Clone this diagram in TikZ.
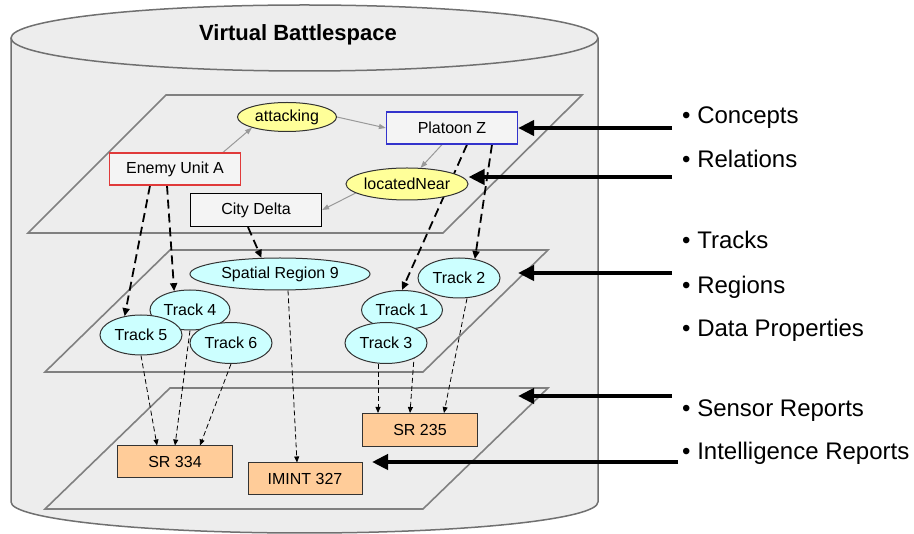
\documentclass[tikz,border=0pt]{standalone}
\usepackage{fontspec}
\setmainfont{Liberation Sans}
\usetikzlibrary{shapes.geometric,arrows.meta,calc}
\pgfdeclarelayer{bg}\pgfdeclarelayer{edges}
\pgfsetlayers{bg,edges,main}
\definecolor{bgc}{HTML}{EDEDED}
\definecolor{cylline}{HTML}{707070}
\definecolor{planeline}{HTML}{808080}
\definecolor{yel}{HTML}{FFFF99}
\definecolor{cyn}{HTML}{CCFFFF}
\definecolor{org}{HTML}{FFCC99}
\definecolor{redb}{HTML}{E03A3A}
\definecolor{blueb}{HTML}{3333CC}
\definecolor{relline}{HTML}{999999}
\definecolor{nodeline}{HTML}{333333}
\tikzset{
  nodefont/.style={font=\fontsize{16}{18}\selectfont},
  concept/.style={nodefont, rectangle, draw, fill=bgc!60!white, line width=1.2pt, minimum width=131pt, minimum height=32pt, inner sep=0pt},
  relnode/.style={nodefont, ellipse, draw=nodeline, fill=yel, line width=1pt, minimum height=29pt, inner sep=0pt},
  trk/.style={nodefont, ellipse, draw=nodeline, fill=cyn, line width=1pt, minimum width=82pt, minimum height=40pt, inner sep=0pt},
  rep/.style={nodefont, rectangle, draw=nodeline, fill=org, line width=1pt, minimum width=115pt, minimum height=32pt, inner sep=0pt},
  plane/.style={draw=planeline, line width=1.6pt, line join=miter},
  relarrow/.style={draw=relline, line width=1pt, -{Triangle[length=7pt,width=5pt]}},
  maparrow/.style={draw=black, line width=1.8pt, dash pattern=on 9pt off 5pt, -{Triangle[length=8pt,width=7pt]}},
  obsarrow/.style={draw=black, line width=0.8pt, dash pattern=on 5pt off 3pt, -{Triangle[length=6pt,width=5pt]}},
  bigarrow/.style={draw=black, line width=4pt, -{Triangle[length=16pt,width=15pt]}},
  lbl/.style={anchor=base west, inner sep=0pt, font=\fontsize{24}{28}\selectfont},
}
\begin{document}
\begin{tikzpicture}[x=1pt,y=-1pt]
\useasboundingbox (0,0) rectangle (914,534);
\begin{pgfonlayer}{bg}
  % cylinder
  \fill[bgc] (11,38) -- (11,502) arc[start angle=180,end angle=360,x radius=293.5pt,y radius=31pt] -- (598,38) -- cycle;
  \draw[cylline, line width=1.5pt] (11,38) -- (11,502) arc[start angle=180,end angle=360,x radius=293.5pt,y radius=31pt] -- (598,38);
  \filldraw[fill=bgc, draw=cylline, line width=1.5pt] (304.5,38) ellipse[x radius=293.5pt, y radius=33pt];
  % planes
  \draw[plane] (166,95) -- (582,95) -- (443,233) -- (28,233) -- cycle;
  \draw[plane] (170,250) -- (548,250) -- (423,372) -- (45,372) -- cycle;
  \draw[plane] (170,388) -- (548,388) -- (423,509) -- (45,509) -- cycle;
\end{pgfonlayer}

\node[font=\fontsize{22}{26}\selectfont\bfseries] (title) at (298,35) {Virtual Battlespace};

% concept layer
\node[relnode, minimum width=99pt] (att) at (287,117) {attacking};
\node[concept, draw=blueb] (pz) at (452,128) {Platoon Z};
\node[concept, draw=redb] (eu) at (175,169) {Enemy Unit A};
\node[relnode, minimum width=121pt, minimum height=32pt] (ln) at (407,184) {locatedNear};
\node[concept, draw=black, minimum height=33pt] (cd) at (256,210) {City Delta};

% track layer
\node[trk, minimum width=180pt, minimum height=32pt] (sr9) at (280,274) {Spatial Region 9};
\node[trk] (t2) at (459,278) {Track 2};
\node[trk, minimum width=80pt] (t4) at (190,310) {Track 4};
\node[trk] (t5) at (141,335) {Track 5};
\node[trk, minimum height=41pt] (t6) at (231,343) {Track 6};
\node[trk, minimum width=81pt, minimum height=39pt] (t1) at (402,310) {Track 1};
\node[trk, minimum height=41pt] (t3) at (386,343) {Track 3};

% report layer
\node[rep] (sr334) at (175,462) {SR 334};
\node[rep, minimum width=114pt] (imint) at (305,479) {IMINT 327};
\node[rep, minimum height=33pt] (sr235) at (420,430) {SR 235};

% right-hand labels
\node[lbl] (lc) at (682,124) {• Concepts};
\node[lbl] (lr) at (682,168) {• Relations};
\node[lbl] (lt) at (682,249) {• Tracks};
\node[lbl] (lg) at (682,294) {• Regions};
\node[lbl] (ld) at (682,337) {• Data Properties};
\node[lbl] (ls) at (682,417) {• Sensor Reports};
\node[lbl] (li) at (682,460) {• Intelligence Reports};

\coordinate (c1) at (672,128);
\coordinate (c2) at (672,177);
\coordinate (c3) at (672,273);
\coordinate (c3e) at (518,273);
\coordinate (c4) at (672,396);
\coordinate (c4e) at (518,396);
\coordinate (c5) at (678,462);
\coordinate (c5e) at (372,462);

\begin{pgfonlayer}{edges}
  % relations
  \draw[relarrow] ([xshift=48pt]eu.north) -- (att.197);
  \draw[relarrow] (att.east) -- (pz.west);
  \draw[relarrow] ([xshift=-10pt]pz.south) -- (ln.50);
  \draw[relarrow] (ln.190) -- (cd.east);
  % concept -> track
  \draw[maparrow] ([xshift=-25pt]eu.south) -- (t5.131);
  \draw[maparrow] ([xshift=-8pt]eu.south) -- (t4.130);
  \draw[maparrow] ([xshift=-8pt]cd.south) -- (sr9.139);
  \draw[maparrow] ([xshift=15pt]pz.south) -- (t1.north);
  \draw[maparrow] ([xshift=40pt]pz.south) -- (t2.50);
  % track -> report
  \draw[obsarrow] (t5.south) -- ([xshift=-18pt]sr334.north);
  \draw[obsarrow] (t4.south) -- (sr334.north);
  \draw[obsarrow] (t6.south) -- ([xshift=25pt]sr334.north);
  \draw[obsarrow] ([xshift=8pt]sr9.south) -- ([xshift=-8pt]imint.north);
  \draw[obsarrow] ([xshift=-8pt]t3.south) -- ([xshift=-42pt]sr235.north);
  \draw[obsarrow] ([xshift=14pt]t1.south) -- ([xshift=-10pt]sr235.north);
  \draw[obsarrow] ([xshift=8pt]t2.south) -- ([xshift=24pt]sr235.north);
\end{pgfonlayer}

% big pointers
\draw[bigarrow] (c1) -- (pz.east);
\draw[bigarrow] (c2) -- (c2 -| ln.east);
\draw[bigarrow] (c3) -- (c3e);
\draw[bigarrow] (c4) -- (c4e);
\draw[bigarrow] (c5) -- (c5e);
\end{tikzpicture}
\end{document}
